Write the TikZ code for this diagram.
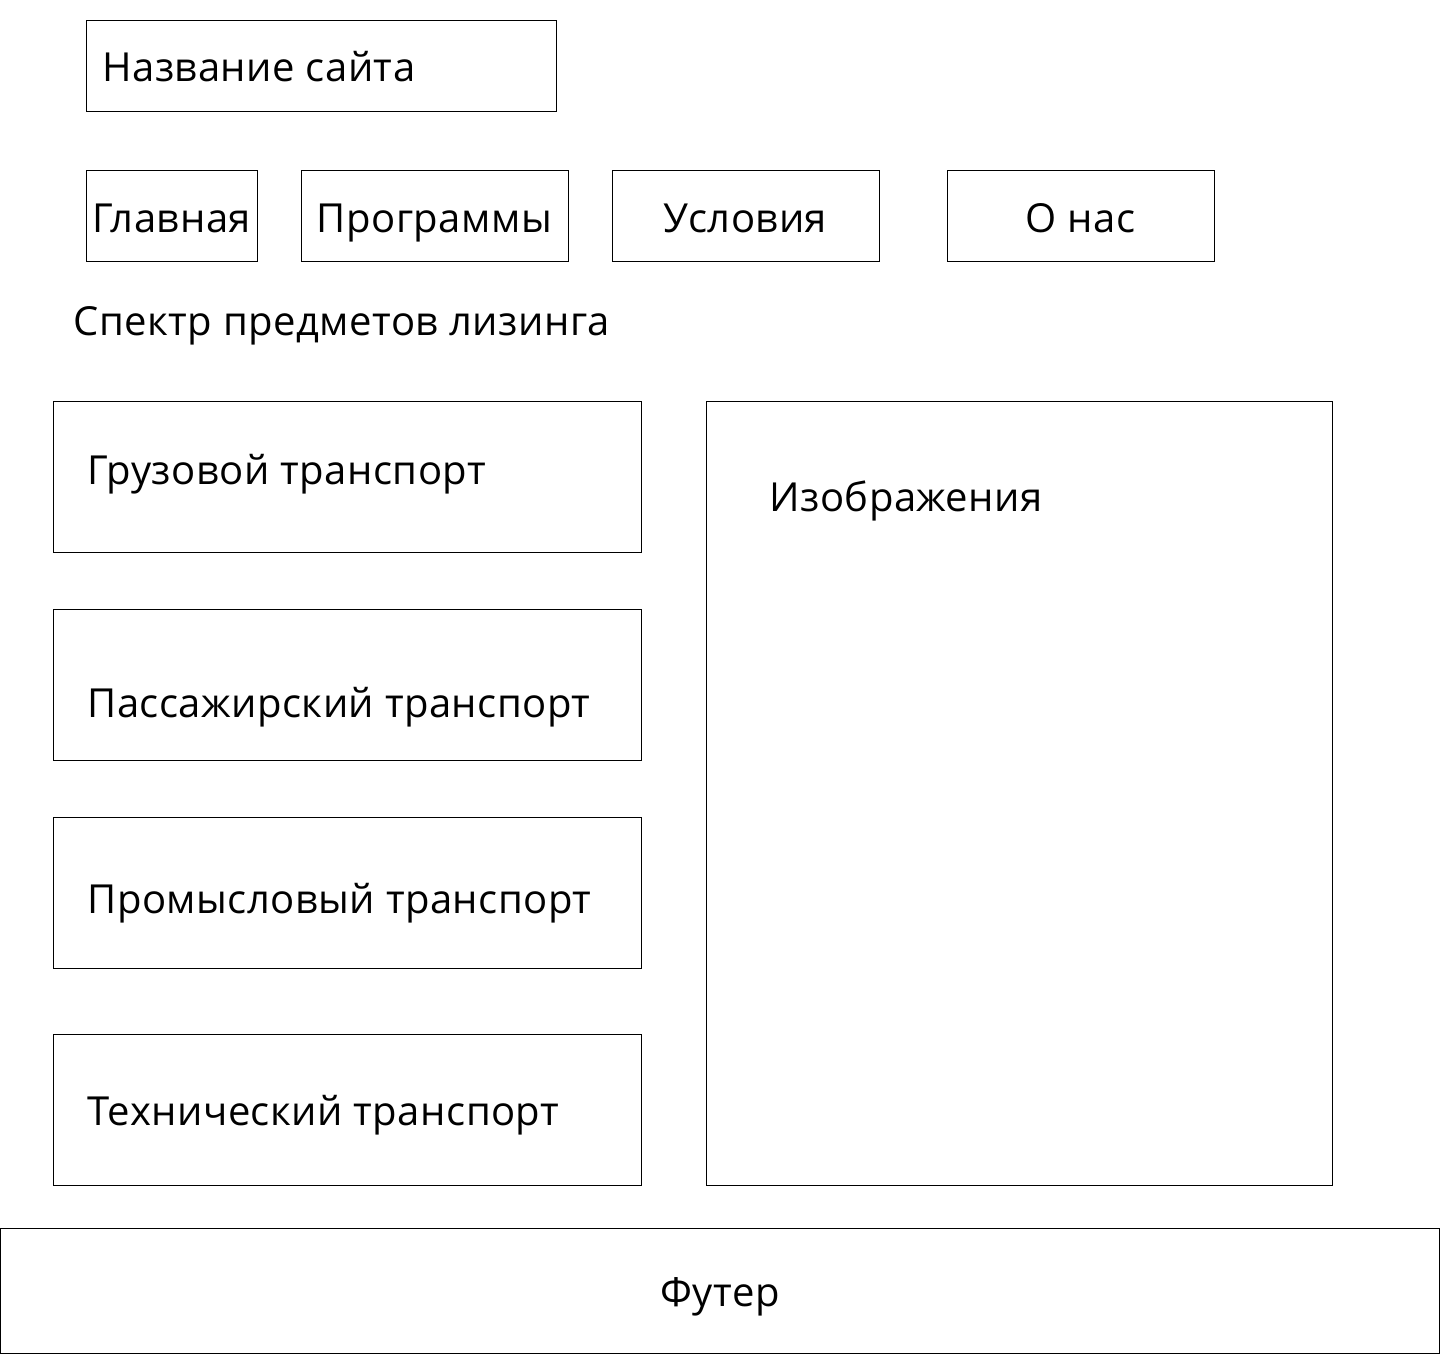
\documentclass[tikz,border=0pt]{standalone}
\usepackage{fontspec}
\setmainfont{Open Sans}[LetterSpace=1.2]
\begin{document}
\begin{tikzpicture}[x=0.5pt,y=-0.5pt,
  box/.style={draw=black,line width=0.5pt},
  lbl/.style={inner sep=0pt,font=\fontsize{20}{24}\selectfont},
]
\useasboundingbox (0,0) rectangle (1440,1354);
% title
\draw[box] (86,21) rectangle (556,112);
\node[lbl,anchor=base west] (title) at (102,82) {Название сайта};
% nav
\draw[box] (86,170) rectangle (257,261);
\node[lbl,anchor=base] (nav1) at (171.5,232) {Главная};
\draw[box] (301,170) rectangle (568,261);
\node[lbl,anchor=base] (nav2) at (434.5,232) {Программы};
\draw[box] (612,170) rectangle (879,261);
\node[lbl,anchor=base] (nav3) at (745.5,232) {Условия};
\draw[box] (947,170) rectangle (1214,261);
\node[lbl,anchor=base] (nav4) at (1080.5,232) {О нас};
% heading
\node[lbl,anchor=base west] (spec) at (73,335) {Спектр предметов лизинга};
% categories
\draw[box] (53,401) rectangle (641,552);
\node[lbl,anchor=base west] (c1) at (87,484) {Грузовой транспорт};
\draw[box] (53,609) rectangle (641,760);
\node[lbl,anchor=base west] (c2) at (87,717) {Пассажирский транспорт};
\draw[box] (53,817) rectangle (641,968);
\node[lbl,anchor=base west] (c3) at (87,913) {Промысловый транспорт};
\draw[box] (53,1034) rectangle (641,1185);
\node[lbl,anchor=base west] (c4) at (87,1125) {Технический транспорт};
% images
\draw[box] (706,401) rectangle (1332,1185);
\node[lbl,anchor=base west] (img) at (769,511) {Изображения};
% footer
\draw[box] (0.5,1228) rectangle (1439.5,1353);
\node[lbl,anchor=base] (foot) at (720,1306) {Футер};
\end{tikzpicture}
\end{document}
